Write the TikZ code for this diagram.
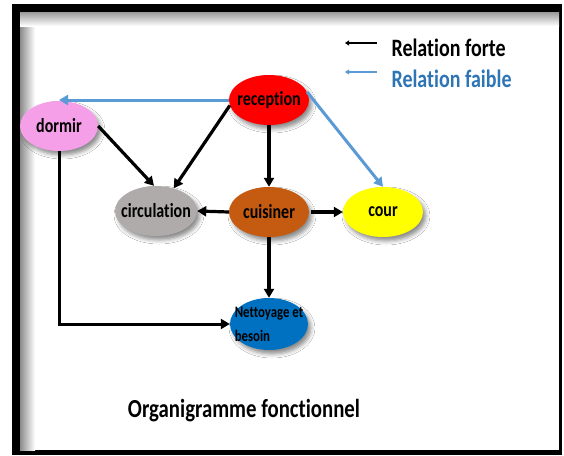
\documentclass[tikz,border=0pt]{standalone}
\usepackage{fontspec}
\setmainfont{Carlito}[FakeStretch=0.8,Ligatures=NoCommon]
\usepackage{tikz}
\usetikzlibrary{arrows.meta,shapes.geometric,shadows.blur}
\definecolor{Recep}{HTML}{FF0000}
\definecolor{Dormir}{HTML}{F59FE8}
\definecolor{Circ}{HTML}{AFABAB}
\definecolor{Cuis}{HTML}{C55A11}
\definecolor{Cour}{HTML}{FFFF00}
\definecolor{Nett}{HTML}{0070C0}
\definecolor{Faible}{HTML}{5B9BD5}
\definecolor{FaibleText}{HTML}{2E75B6}
\tikzset{
  room/.style={ellipse,minimum width=80pt,minimum height=50pt,inner xsep=-10pt,inner ysep=0pt,text=black,
    font=\fontsize{20}{22}\selectfont\bfseries,
    blur shadow={shadow xshift=3pt,shadow yshift=-4pt,shadow blur radius=4pt,shadow opacity=45}},
  fort/.style={-{Triangle[length=9pt,width=10pt]},line width=3.2pt,draw=black},
  faible/.style={fort,draw=Faible,line width=3pt},
  legArrow/.style={-{Triangle[length=4pt,width=5pt]},line width=1.3pt},
  legText/.style={anchor=base west,font=\fontsize{25}{28}\selectfont\bfseries}
}
\begin{document}
\begin{tikzpicture}[x=1pt,y=-1pt]
  \useasboundingbox (0,0) rectangle (564,455);
  % cadre
  \fill[black] (12,4) rectangle (562,455);
  \fill[white] (20,12) rectangle (559,450);
  \shade[left color=black!45,right color=white] (20,12) rectangle (35,450);
  \shade[top color=black!40,bottom color=white] (20,12) rectangle (559,26);
  % pieces
  \node[room,fill=Recep] (recep) at (269,100) {reception};
  \node[room,fill=Dormir,minimum width=78pt] (dormir) at (59,126) {dormir};
  \node[room,fill=Circ,minimum width=82pt] (circ) at (156,211) {circulation};
  \node[room,fill=Cuis] (cuis) at (269,212) {cuisiner};
  \node[room,fill=Cour] (cour) at (383,212) {cour};
  \node[room,fill=Nett,minimum width=78pt,minimum height=52pt,align=left,inner xsep=-12pt,inner ysep=-7pt,
    font=\fontsize{16}{24}\selectfont\bfseries] (nett) at (269,324) {Nettoyage et\\besoin};
  % relations
  \draw[fort] (dormir.east) -- ([xshift=-2pt]circ.north);
  \draw[fort] (recep.188) -- (circ.52);
  \draw[fort] (recep.south) -- (cuis.north);
  \draw[fort] (cuis.west) -- (circ.east);
  \draw[fort,line width=4.5pt] ([xshift=2pt]cuis.east) -- (cour.west);
  \draw[fort] (cuis.south) -- (nett.north);
  \draw[fort,line width=3pt] (dormir.south) |- (nett.west);
  \draw[faible] (recep.west) -- (recep.west -| dormir.north);
  \draw[faible] (recep.12) -- (cour.north);
  % legende
  \node[legText] (legFort) at (388,56) {Relation forte};
  \node[legText,text=FaibleText] (legFaible) at (388,87) {Relation faible};
  \coordinate (fortA) at (377,43); \coordinate (fortB) at (345,43);
  \coordinate (faibleA) at (377,72); \coordinate (faibleB) at (345,72);
  \draw[legArrow] (fortA) -- (fortB);
  \draw[legArrow,draw=Faible] (faibleA) -- (faibleB);
  \node[anchor=base,font=\fontsize{26}{30}\selectfont\bfseries] (titre) at (244,417) {Organigramme fonctionnel};
\end{tikzpicture}
\end{document}
